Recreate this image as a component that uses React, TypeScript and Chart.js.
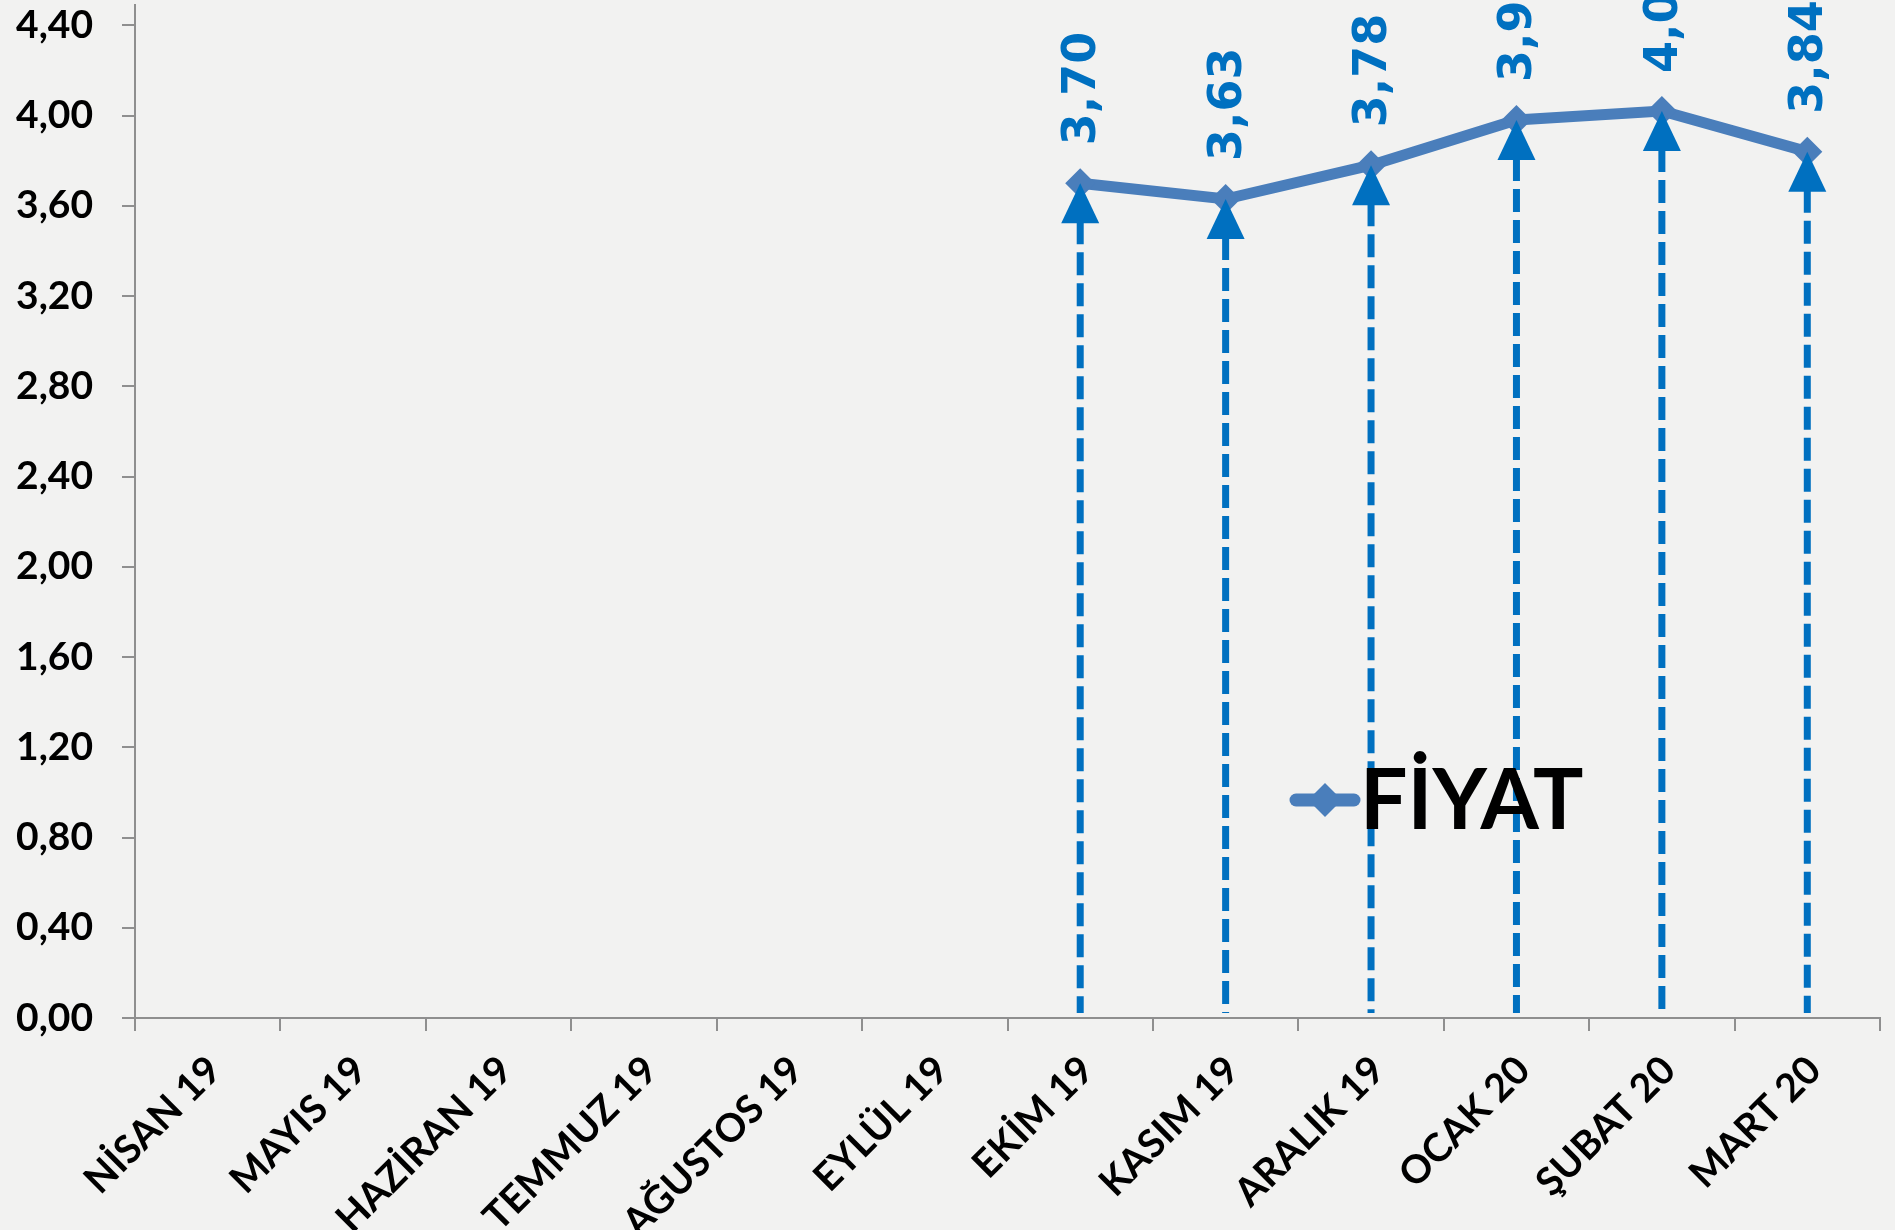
import React, { useEffect, useRef } from 'react';
import { Chart, registerables } from 'chart.js';

Chart.register(...registerables);

const categories = ['NİSAN 19', 'MAYIS 19', 'HAZİRAN 19', 'TEMMUZ 19', 'AĞUSTOS 19', 'EYLÜL 19', 'EKİM 19', 'KASIM 19', 'ARALIK 19', 'OCAK 20', 'ŞUBAT 20', 'MART 20'];
const prices: (number | null)[] = [null, null, null, null, null, null, 3.70, 3.63, 3.78, 3.98, 4.02, 3.84];
const yTicks = [0, 0.4, 0.8, 1.2, 1.6, 2.0, 2.4, 2.8, 3.2, 3.6, 4.0, 4.4];
const seriesName = 'FİYAT';

const LINE_COLOR = '#4A7EBB';
const ARROW_COLOR = '#0070C0';
const AXIS_COLOR = '#8f8f8f';
const fmt = (v: number) => v.toFixed(2).replace('.', ',');

const CANVAS_SHIFT = 10;

const bgPlugin = {
  id: 'bg',
  beforeDraw(chart: any) {
    const { ctx, width, height } = chart;
    ctx.save();
    ctx.fillStyle = '#f2f2f1';
    ctx.fillRect(0, 0, width, height);
    ctx.restore();
  },
};

const arrowsPlugin = {
  id: 'arrows',
  afterDatasetsDraw(chart: any) {
    const { ctx } = chart;
    const meta = chart.getDatasetMeta(0);
    const yBase = chart.scales.y.getPixelForValue(0);
    ctx.save();
    meta.data.forEach((pt: any, i: number) => {
      const v = prices[i];
      if (v === null || v === undefined) return;
      const x = pt.x;
      const y = pt.y;
      const headH = 40;
      const headW = 38;
      ctx.strokeStyle = ARROW_COLOR;
      ctx.lineWidth = 7;
      ctx.setLineDash([23, 8]);
      ctx.beginPath();
      ctx.moveTo(x, y + headH - 2);
      ctx.lineTo(x, yBase - 5);
      ctx.stroke();
      ctx.setLineDash([]);
      ctx.fillStyle = ARROW_COLOR;
      ctx.beginPath();
      ctx.moveTo(x, y);
      ctx.lineTo(x + headW / 2, y + headH);
      ctx.lineTo(x - headW / 2, y + headH);
      ctx.closePath();
      ctx.fill();
    });
    meta.data.forEach((pt: any, i: number) => {
      const v = prices[i];
      if (v === null || v === undefined) return;
      ctx.save();
      ctx.translate(pt.x + 3, pt.y - 38);
      ctx.rotate(-Math.PI / 2);
      ctx.font = 'bold 46px "DejaVu Sans"';
      ctx.fillStyle = ARROW_COLOR;
      ctx.textAlign = 'left';
      ctx.textBaseline = 'middle';
      ctx.fillText(fmt(v), 0, 0);
      ctx.restore();
    });
    ctx.restore();
  },
};

const legendPlugin = {
  id: 'customLegend',
  afterDraw(chart: any) {
    const { ctx } = chart;
    const x0 = 1296;
    const x1 = 1354;
    const yc = 800 + CANVAS_SHIFT;
    ctx.save();
    ctx.strokeStyle = LINE_COLOR;
    ctx.lineWidth = 13;
    ctx.lineCap = 'round';
    ctx.beginPath();
    ctx.moveTo(x0, yc);
    ctx.lineTo(x1, yc);
    ctx.stroke();
    const cx = (x0 + x1) / 2;
    const r = 17;
    ctx.fillStyle = LINE_COLOR;
    ctx.beginPath();
    ctx.moveTo(cx, yc - r);
    ctx.lineTo(cx + r, yc);
    ctx.lineTo(cx, yc + r);
    ctx.lineTo(cx - r, yc);
    ctx.closePath();
    ctx.fill();
    ctx.fillStyle = '#000000';
    ctx.font = 'bold 84px Lato';
    ctx.textAlign = 'left';
    ctx.textBaseline = 'alphabetic';
    ctx.fillText(seriesName, 1360, 829 + CANVAS_SHIFT);
    ctx.restore();
  },
};

export default function App() {
  const ref = useRef<HTMLCanvasElement | null>(null);
  useEffect(() => {
    document.body.style.margin = '0';
    document.body.style.background = '#f2f2f1';
    const canvas = ref.current!;
    const chart = new Chart(canvas, {
      type: 'line',
      data: {
        labels: categories,
        datasets: [
          {
            label: seriesName,
            data: prices,
            borderColor: LINE_COLOR,
            backgroundColor: LINE_COLOR,
            borderWidth: 11,
            pointStyle: 'rectRot',
            pointRadius: 15,
            pointBorderWidth: 0,
            pointBackgroundColor: LINE_COLOR,
            spanGaps: false,
            tension: 0,
          },
        ],
      },
      options: {
        animation: false,
        responsive: false,
        maintainAspectRatio: false,
        layout: { padding: { top: 0, right: 10, bottom: 0, left: 0 } },
        plugins: {
          legend: { display: false },
          tooltip: { enabled: false },
        },
        scales: {
          x: {
            type: 'category',
            offset: true,
            grid: {
              offset: true,
              drawOnChartArea: false,
              drawTicks: true,
              tickLength: 13,
              color: AXIS_COLOR,
              lineWidth: 2,
            },
            border: { color: AXIS_COLOR, width: 2 },
            ticks: {
              autoSkip: false,
              minRotation: 45,
              maxRotation: 45,
              padding: 16,
              labelOffset: 7,
              color: '#000000',
              font: { family: 'Lato', weight: 'bold', size: 39 },
            },
            afterFit(scale: any) {
              scale.height = 212;
              scale.paddingLeft = 0;
              scale.paddingRight = 0;
            },
          },
          y: {
            min: 0,
            max: 4.49,
            grid: {
              drawOnChartArea: false,
              drawTicks: true,
              tickLength: 13,
              color: AXIS_COLOR,
              lineWidth: 2,
            },
            border: { color: AXIS_COLOR, width: 2 },
            afterBuildTicks(scale: any) {
              scale.ticks = yTicks.map((v) => ({ value: v }));
            },
            ticks: {
              padding: 29,
              color: '#000000',
              font: { family: 'Lato', weight: 'bold', size: 39 },
              callback: (v: any) => fmt(Number(v)),
            },
            afterFit(scale: any) {
              scale.width = 135;
              scale.paddingTop = 0;
              scale.paddingBottom = 0;
            },
          },
        },
      },
      plugins: [bgPlugin, arrowsPlugin, legendPlugin],
    });
    return () => chart.destroy();
  }, []);
  return (
    <canvas
      ref={ref}
      width={1895}
      height={1230 + CANVAS_SHIFT}
      style={{ position: 'absolute', left: 0, top: -CANVAS_SHIFT, width: 1895, height: 1230 + CANVAS_SHIFT, display: 'block' }}
    />
  );
}
